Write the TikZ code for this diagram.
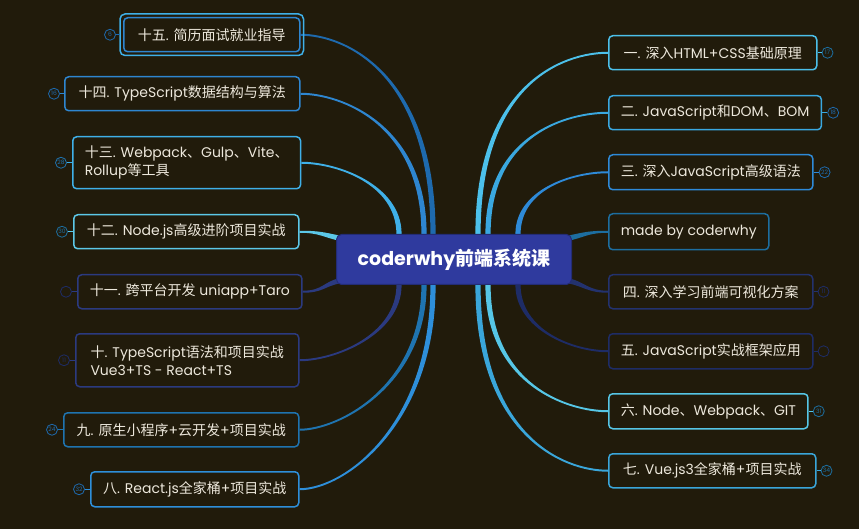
\documentclass[tikz,border=0pt]{standalone}
\usepackage{fontspec}
\setmainfont{Poppins}
\newfontfamily\cjkf{Noto Sans CJK SC}
\usetikzlibrary{calc}
\newcommand\zh[1]{{\cjkf #1}}
\definecolor{bgc}{HTML}{211B0B}
\definecolor{txt}{HTML}{EDE8DC}
\definecolor{cA}{HTML}{1E6AAE}
\definecolor{cB}{HTML}{2E86D0}
\definecolor{cC}{HTML}{3FB0E8}
\definecolor{cD}{HTML}{5CC8E8}
\definecolor{cE}{HTML}{2B3A80}
\definecolor{cF}{HTML}{1F74B0}
\definecolor{cG}{HTML}{2E8FDA}
\definecolor{cH}{HTML}{4CC0EA}
\definecolor{cI}{HTML}{3AA8E0}
\definecolor{cJ}{HTML}{2E8AD8}
\definecolor{cK}{HTML}{1D6EA0}
\definecolor{cL}{HTML}{23326E}
\definecolor{cM}{HTML}{1E2C66}
\definecolor{cN}{HTML}{56C6E6}
\definecolor{cO}{HTML}{3AA6DA}
\definecolor{ctr}{HTML}{2F3A9E}
\pgfdeclarelayer{bgl}
\pgfdeclarelayer{lines}
\pgfsetlayers{bgl,lines,main}
% #1 colour, #2 start, #3 end, #4 c1 (rel start), #5 c2 (rel end), #6 start half vector, #7 end half vector
\newcommand\branch[7]{%
\fill[#1] ($(#2)+(#6)$) .. controls ($(#2)+(#4)+(#6)$) and ($(#3)+(#5)+(#7)$) .. ($(#3)+(#7)$)
  -- ($(#3)-(#7)$) .. controls ($(#3)+(#5)-(#7)$) and ($(#2)+(#4)-(#6)$) .. ($(#2)-(#6)$) -- cycle;}
\tikzset{
  box/.style={draw=#1, line width=1.5pt, rounded corners=4pt, fill=bgc, text=txt,
    font=\fontsize{14}{18}\selectfont, anchor=north west, inner xsep=12pt, inner ysep=2pt, align=left},
  badge/.style={circle, draw=#1, line width=0.8pt, minimum size=11pt, inner sep=0pt,
    text=#1, font=\fontsize{6}{6}\selectfont},
  blink/.style={draw=#1, line width=0.8pt},
}
\begin{document}
\begin{tikzpicture}[x=1pt,y=-1pt]
\begin{pgfonlayer}{bgl}
\fill[bgc] (0,0) rectangle (859,529);
\end{pgfonlayer}
\useasboundingbox (0,0) rectangle (859,529);

% centre
\node[fill=ctr, draw=ctr!75!black, line width=1pt, rounded corners=5pt, anchor=north west,
  minimum width=235pt, minimum height=50pt, text=white,
  font=\fontsize{19}{21}\selectfont\bfseries] (c) at (336,234) {coderwhy\zh{前端系统课}};

% left nodes
\node[box=cB, minimum width=176pt, minimum height=34pt] (n15) at (123,17) {\zh{十五}. \zh{简历面试就业指导}};
\draw[draw=cC, line width=1.5pt, rounded corners=5pt] ([shift={(-3,-3)}]n15.north west) rectangle ([shift={(3,3)}]n15.south east);
\node[box=cB, minimum width=235pt, minimum height=34pt] (n14) at (64,76) {\zh{十四}. TypeScript\zh{数据结构与算法}};
\node[box=cC, minimum width=226pt, minimum height=52pt] (n13) at (72,136) {\zh{十三}. Webpack\zh{、}Gulp\zh{、}Vite\zh{、}\\Rollup\zh{等工具}};
\node[box=cD, minimum width=225pt, minimum height=34pt] (n12) at (73,214) {\zh{十二}. Node.js\zh{高级进阶项目实战}};
\node[box=cE, minimum width=221pt, minimum height=34pt] (n11) at (77,274) {\zh{十一}. \zh{跨平台开发} uniapp+Taro};
\node[box=cE, minimum width=223pt, minimum height=53pt] (n10) at (75,333) {\zh{十}. TypeScript\zh{语法和项目实战}\\Vue3+TS - React+TS};
\node[box=cF, minimum width=235pt, minimum height=34pt] (n9) at (63,412) {\zh{九}. \zh{原生小程序}+\zh{云开发}+\zh{项目实战}};
\node[box=cG, minimum width=208pt, minimum height=35pt] (n8) at (90,471) {\zh{八}. React.js\zh{全家桶}+\zh{项目实战}};

% right nodes
\node[box=cH, minimum width=208pt, minimum height=34pt] (r1) at (608,35) {\zh{一}. \zh{深入}HTML+CSS\zh{基础原理}};
\node[box=cI, minimum width=212pt, minimum height=34pt] (r2) at (608,95) {\zh{二}. JavaScript\zh{和}DOM\zh{、}BOM};
\node[box=cJ, minimum width=203pt, minimum height=35pt] (r3) at (608,154) {\zh{三}. \zh{深入}JavaScript\zh{高级语法}};
\node[box=cK, minimum width=156pt, minimum height=36pt] (rm) at (608,213) {made by coderwhy};
\node[box=cL, minimum width=204pt, minimum height=34pt] (r4) at (608,274) {\zh{四}. \zh{深入学习前端可视化方案}};
\node[box=cM, minimum width=204pt, minimum height=35pt] (r5) at (608,333) {\zh{五}. JavaScript\zh{实战框架应用}};
\node[box=cN, minimum width=199pt, minimum height=35pt] (r6) at (608,393) {\zh{六}. Node\zh{、}Webpack\zh{、}GIT};
\node[box=cO, minimum width=207pt, minimum height=34pt] (r7) at (608,453) {\zh{七}. Vue.js3\zh{全家桶}+\zh{项目实战}};

% badges
\node[badge=cA] (b15) at ([xshift=-13pt]n15.west) {6};
\node[badge=cA] (b14) at ([xshift=-10pt]n14.west) {16};
\node[badge=cF] (b13) at ([xshift=-11pt]n13.west) {28};
\node[badge=cK] (b12) at ([xshift=-11pt]n12.west) {30};
\node[badge=cM] (b11) at ([xshift=-11pt]n11.west) {};
\node[badge=cM] (b10) at ([xshift=-11pt]n10.west) {11};
\node[badge=cA] (b9) at ([xshift=-11pt]n9.west) {24};
\node[badge=cA] (b8) at ([xshift=-11pt]n8.west) {32};
\node[badge=cK] (c1) at ([xshift=10pt]r1.east) {17};
\node[badge=cA] (c2) at ([xshift=11pt]r2.east) {18};
\node[badge=cA] (c3) at ([xshift=11pt]r3.east) {22};
\node[badge=cM] (c4) at ([xshift=10pt]r4.east) {11};
\node[badge=cM] (c5) at ([xshift=10pt]r5.east) {};
\node[badge=cK] (c6) at ([xshift=10pt]r6.east) {31};
\node[badge=cK] (c7) at ([xshift=10pt]r7.east) {34};
\draw[blink=cA] (b15) -- ([xshift=-3pt]n15.west);
\draw[blink=cB] (b14) -- (n14);
\draw[blink=cC] (b13) -- (n13);
\draw[blink=cD] (b12) -- (n12);
\draw[blink=cE] (b11) -- (n11);
\draw[blink=cE] (b10) -- (n10);
\draw[blink=cF] (b9) -- (n9);
\draw[blink=cG] (b8) -- (n8);
\draw[blink=cH] (c1) -- (r1);
\draw[blink=cI] (c2) -- (r2);
\draw[blink=cJ] (c3) -- (r3);
\draw[blink=cL] (c4) -- (r4);
\draw[blink=cM] (c5) -- (r5);
\draw[blink=cN] (c6) -- (r6);
\draw[blink=cO] (c7) -- (r7);

% connectors
\begin{pgfonlayer}{lines}
\coordinate (e15) at ([xshift=-21pt]c.north);
\coordinate (e14) at ([xshift=-30pt]c.north);
\coordinate (e13) at ([xshift=-55pt]c.north);
\coordinate (e12) at ([shift={(3,4)}]c.north west);
\coordinate (e11) at ([shift={(3,-4)}]c.south west);
\coordinate (e10) at ([xshift=-55pt]c.south);
\coordinate (e9) at ([xshift=-30pt]c.south);
\coordinate (e8) at ([xshift=-21pt]c.south);
\coordinate (f1) at ([xshift=24pt]c.north);
\coordinate (f2) at ([xshift=34pt]c.north);
\coordinate (f3) at ([xshift=64pt]c.north);
\coordinate (fm) at ([shift={(-3,4)}]c.north east);
\coordinate (f4) at ([shift={(-3,-4)}]c.south east);
\coordinate (f5) at ([xshift=64pt]c.south);
\coordinate (f6) at ([xshift=34pt]c.south);
\coordinate (f7) at ([xshift=24pt]c.south);
\branch{cA}{n15.east}{e15}{45,0}{0,-160}{0,-1}{2.6,0}
\branch{cB}{n14.east}{e14}{40,0}{0,-110}{0,-1}{2.6,0}
\branch{cC}{n13.east}{e13}{35,0}{0,-50}{0,-1}{2.6,0}
\branch{cD}{n12.east}{e12}{20,0}{-15,-3}{0,-1}{0,-2.6}
\branch{cE}{n11.east}{e11}{20,0}{-15,3}{0,-1}{0,-2.6}
\branch{cE}{n10.east}{e10}{35,0}{0,50}{0,1}{2.6,0}
\branch{cF}{n9.east}{e9}{40,0}{0,100}{0,1}{2.6,0}
\branch{cG}{n8.east}{e8}{45,0}{0,140}{0,1}{2.6,0}
\branch{cH}{r1.west}{f1}{-45,0}{0,-150}{0,-1}{-2.6,0}
\branch{cI}{r2.west}{f2}{-40,0}{0,-100}{0,-1}{-2.6,0}
\branch{cJ}{r3.west}{f3}{-35,0}{0,-45}{0,-1}{-2.6,0}
\branch{cK}{rm.west}{fm}{-20,0}{15,-3}{0,-1}{0,-2.6}
\branch{cL}{r4.west}{f4}{-20,0}{15,3}{0,-1}{0,-2.6}
\branch{cM}{r5.west}{f5}{-35,0}{0,45}{0,1}{-2.6,0}
\branch{cN}{r6.west}{f6}{-40,0}{0,100}{0,1}{-2.6,0}
\branch{cO}{r7.west}{f7}{-45,0}{0,150}{0,1}{-2.6,0}
\end{pgfonlayer}
\end{tikzpicture}
\end{document}
